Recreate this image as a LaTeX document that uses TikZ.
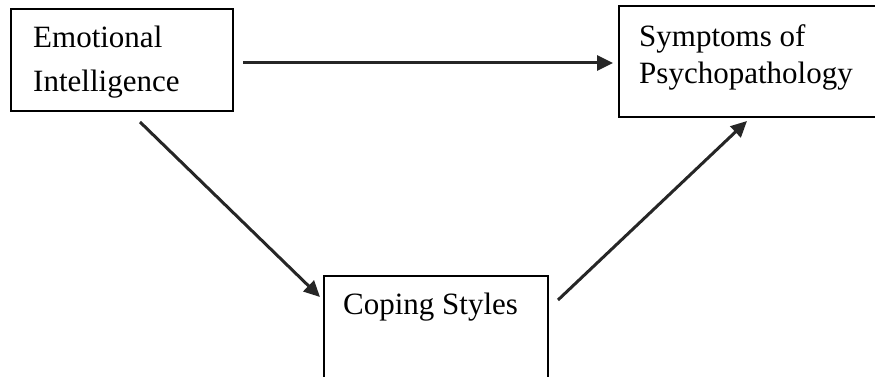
\documentclass[tikz,border=0pt]{standalone}
\usepackage{fontspec}
\setmainfont{Liberation Serif}
\usetikzlibrary{arrows.meta}
\begin{document}
\begin{tikzpicture}[x=1pt,y=1pt,
  box/.style={draw, line width=1.5pt, inner sep=0pt},
  lbl/.style={anchor=base west, font=\fontsize{31}{37}\selectfont, inner sep=0pt},
  arr/.style={line width=3pt, draw=black!85, -{Triangle[length=16pt,width=15pt]}}]
\useasboundingbox (0,0) rectangle (875,377);
\clip (0,0) rectangle (875,377);
% boxes
\node[box, minimum width=222pt, minimum height=102pt] (ei) at (122,317) {};
\node[box, minimum width=271pt, minimum height=111pt] (sp) at (754.5,315.5) {};
\node[box, minimum width=224pt, minimum height=124pt] (cs) at (436,39) {};
% labels
\node[lbl] (ei1) at (33,329) {Emotional};
\node[lbl] (ei2) at (33,285) {Intelligence};
\node[lbl] (sp1) at (639,330) {Symptoms of};
\node[lbl] (sp2) at (639,293) {Psychopathology};
\node[lbl] (cs1) at (343,62) {Coping Styles};
% connector end points
\coordinate (h1) at (243,314);
\coordinate (h2) at (613,314);
\coordinate (d1) at (140,255);
\coordinate (d2) at (320,80);
\coordinate (e1) at (558,77);
\coordinate (e2) at (747,256);
\draw[arr] (h1) -- (h2);
\draw[arr] (d1) -- (d2);
\draw[arr] (e1) -- (e2);
\end{tikzpicture}
\end{document}
